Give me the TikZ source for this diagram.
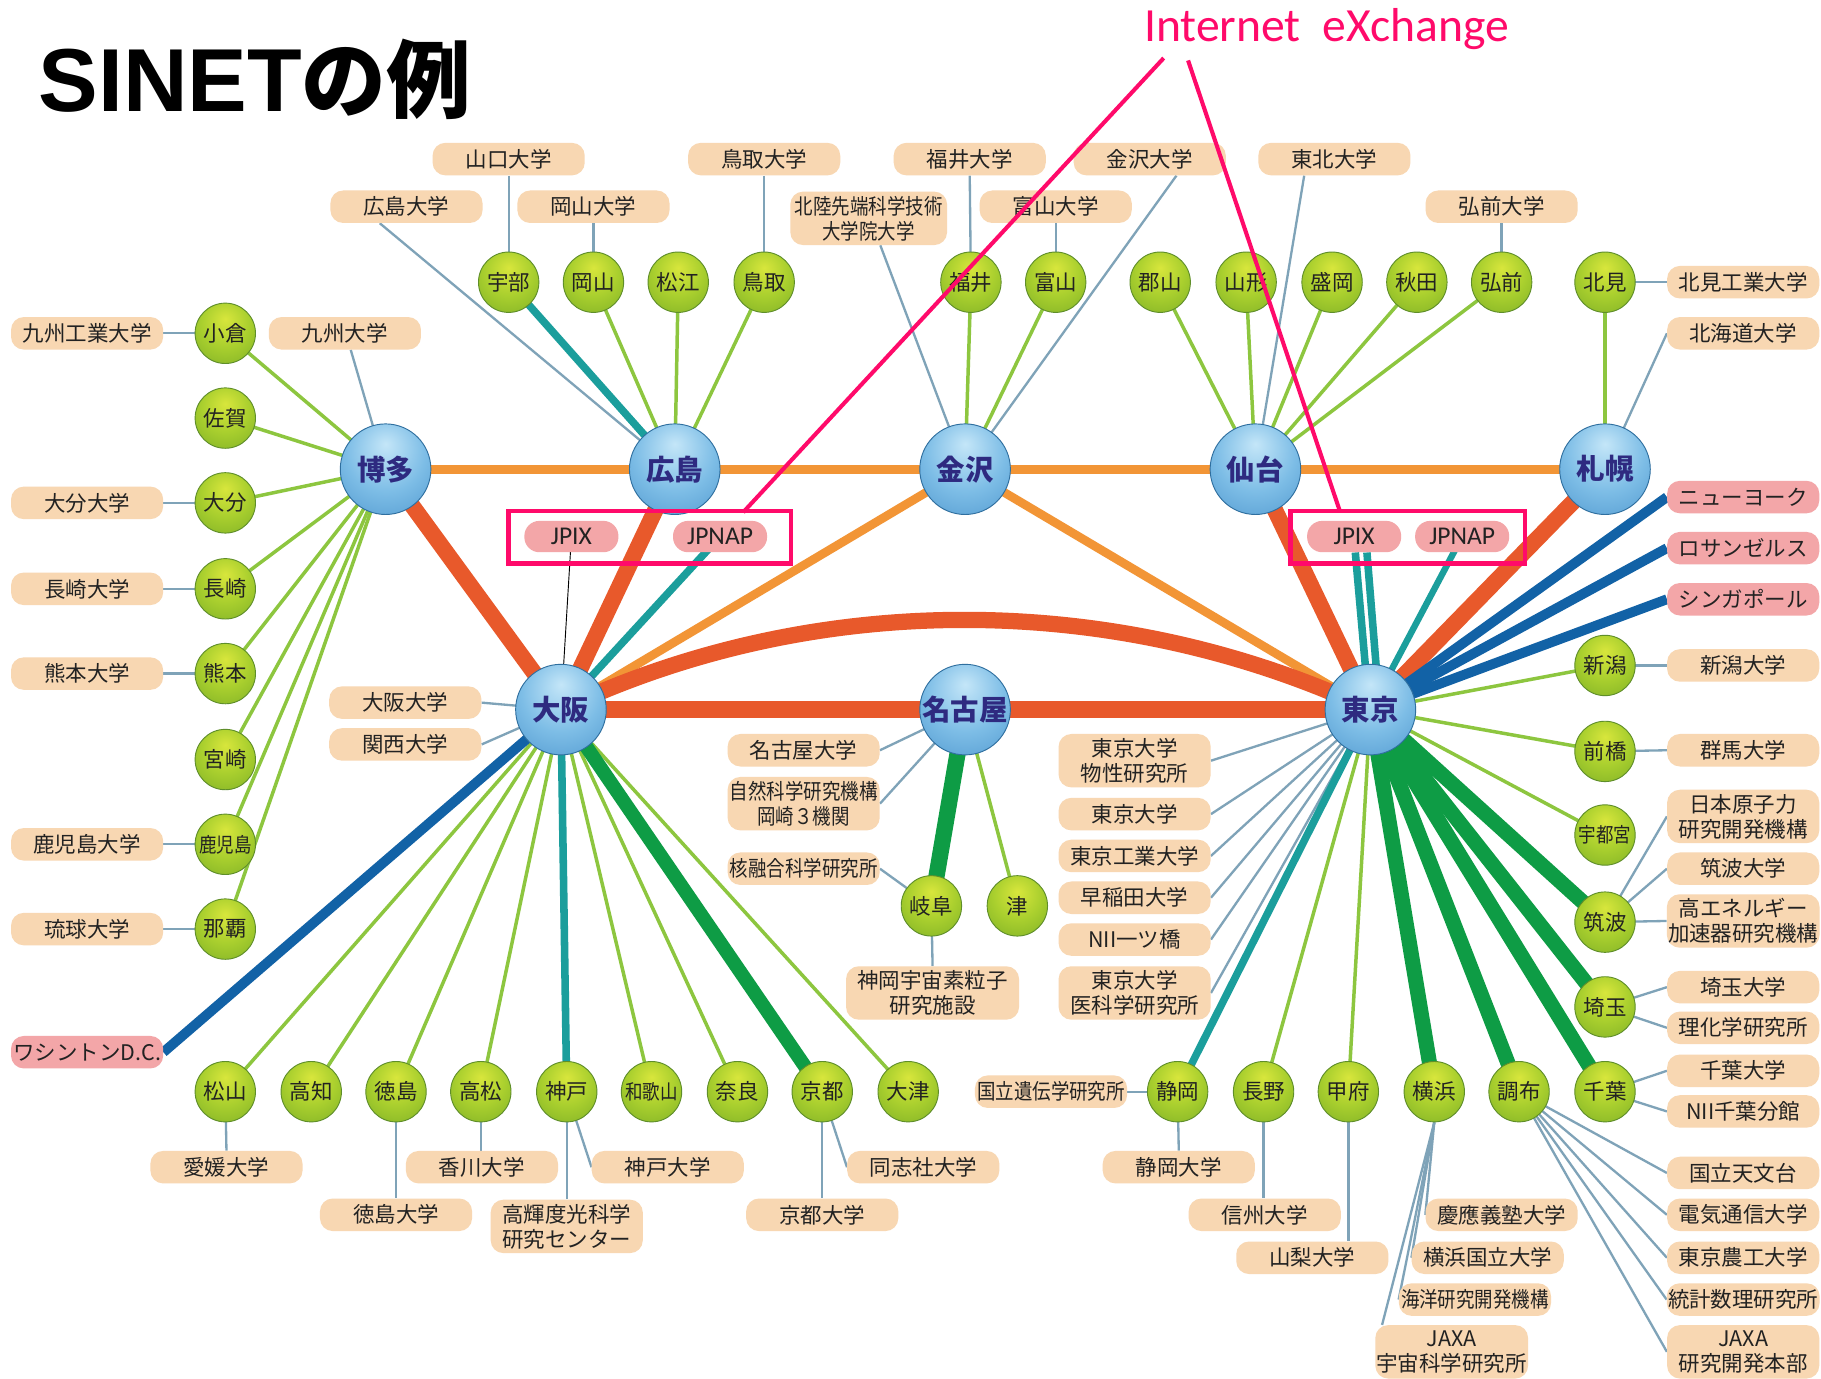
\documentclass[tikz,border=0pt]{standalone}
\usepackage{fontspec}
\newfontfamily\cjk{Noto Sans CJK JP}
\newfontfamily\cjkn[FakeStretch=0.86]{Noto Sans CJK JP}
\newfontfamily\arialf{Liberation Sans}
\newfontfamily\calib{Carlito}
\usetikzlibrary{backgrounds}

\definecolor{gcen}{HTML}{D8E63C}
\definecolor{gmid}{HTML}{A9CF2E}
\definecolor{gedge}{HTML}{6FA523}
\definecolor{gline}{HTML}{5F8E2A}
\definecolor{bcen}{HTML}{C4E6F8}
\definecolor{bmid}{HTML}{7DBDE6}
\definecolor{bedge}{HTML}{3A86C4}
\definecolor{bline}{HTML}{2F6F9F}
\definecolor{hubtxt}{HTML}{2E2A80}
\definecolor{txt}{HTML}{222222}
\definecolor{peach}{HTML}{F8D7B2}
\definecolor{pinkc}{HTML}{F3A6A8}
\definecolor{mag}{HTML}{FF0A6A}
\definecolor{orng}{HTML}{F29536}
\definecolor{redo}{HTML}{E8592B}
\definecolor{tealc}{HTML}{1B9E9C}
\definecolor{intlc}{HTML}{1262A6}
\definecolor{gth}{HTML}{0E9C45}
\definecolor{lgc}{HTML}{8DC63F}
\definecolor{gry}{HTML}{7FA3B8}

\pgfdeclareradialshading{greenball}{\pgfpoint{0bp}{12bp}}{color(0bp)=(gcen); color(20bp)=(gmid); color(48bp)=(gedge); color(70bp)=(gedge)}
\pgfdeclareradialshading{blueball}{\pgfpoint{0bp}{14bp}}{color(0bp)=(bcen); color(22bp)=(bmid); color(52bp)=(bedge); color(70bp)=(bedge)}

\tikzset{
  hub/.style={circle,minimum size=78pt,inner sep=0pt,draw=bline,line width=0.8pt,shading=blueball,text=hubtxt,font=\cjk\bfseries\fontsize{24.5}{24.5}\selectfont},
  gn/.style={circle,minimum size=52pt,inner sep=0pt,draw=gline,line width=0.8pt,shading=greenball,text=txt,font=\cjk\fontsize{18.5}{18.5}\selectfont},
  gnthree/.style={gn,font=\cjkn\fontsize{17.5}{17.5}\selectfont},
  lab/.style={rounded corners=11pt,fill=peach,minimum width=131pt,minimum height=28pt,inner sep=1pt,text=txt,align=center,font=\cjk\fontsize{18.5}{21.5}\selectfont},
  tall/.style={minimum height=46pt},
  narrow/.style={font=\cjkn\fontsize{18.5}{21.5}\selectfont},
  pinkf/.style={fill=pinkc},
  pill/.style={rounded corners=13pt,fill=pinkc,minimum width=81pt,minimum height=27pt,inner sep=0pt,text=txt,font=\calib\fontsize{22}{22}\selectfont},
  ixframe/.style={draw=mag,line width=4pt,minimum height=45pt,inner sep=0pt},
  lor/.style={draw=orng,line width=7.5pt},
  lred/.style={draw=redo,line width=14pt},
  lteal/.style={draw=tealc,line width=6.5pt},
  lint/.style={draw=intlc,line width=8.5pt},
  lgth/.style={draw=gth,line width=13pt},
  llg/.style={draw=lgc,line width=3pt},
  lgr/.style={draw=gry,line width=2pt},
  lmag/.style={draw=mag,line width=3.5pt},
}

\begin{document}
\begin{tikzpicture}[x=1pt,y=-1pt]
\useasboundingbox (0,0) rectangle (1568,1187);

% title
\node[anchor=base west,inner sep=0pt] (title) at (33,96) {\arialf\bfseries\fontsize{77}{77}\selectfont SINET\cjk\bfseries\fontsize{73}{73}\selectfont の例};
\node[anchor=base west,inner sep=0pt,text=mag] (ix) at (985,36) {\calib\fontsize{41}{41}\selectfont Internet\ \ eXchange};

% hubs
\node[hub] (hakata) at (332,404) {博多};
\node[hub] (hiro) at (581,404) {広島};
\node[hub] (kana) at (831,404) {金沢};
\node[hub] (sendai) at (1081,404) {仙台};
\node[hub] (sapporo) at (1382,404) {札幌};
\node[hub] (osaka) at (483,611) {大阪};
\node[hub] (nagoya) at (831,611) {名古屋};
\node[hub] (tokyo) at (1180,611) {東京};

% left green nodes
\node[gn] (kokura) at (194,287) {小倉};
\node[gn] (saga) at (194,360) {佐賀};
\node[gn] (oita) at (194,433) {大分};
\node[gn] (nagasaki) at (194,507) {長崎};
\node[gn] (kumamoto) at (194,580) {熊本};
\node[gn] (miyazaki) at (194,654) {宮崎};
\node[gnthree] (kagoshima) at (194,727) {鹿児島};
\node[gn] (naha) at (194,800) {那覇};

% top green nodes
\node[gn] (ube) at (438,243) {宇部};
\node[gn] (okayama) at (511,243) {岡山};
\node[gn] (matsue) at (584,243) {松江};
\node[gn] (tottori) at (658,243) {鳥取};
\node[gn] (fukui) at (836,243) {福井};
\node[gn] (toyama) at (909,243) {富山};
\node[gn] (koriyama) at (999,243) {郡山};
\node[gn] (yamagata) at (1073,243) {山形};
\node[gn] (morioka) at (1147,243) {盛岡};
\node[gn] (akita) at (1220,243) {秋田};
\node[gn] (hirosaki) at (1293,243) {弘前};
\node[gn] (kitami) at (1382,243) {北見};

% right green nodes
\node[gn] (niigata) at (1382,573) {新潟};
\node[gn] (maebashi) at (1382,647) {前橋};
\node[gnthree] (utsunomiya) at (1382,719) {宇都宮};
\node[gn] (tsukuba) at (1382,794) {筑波};
\node[gn] (saitama) at (1382,867) {埼玉};
\node[gn] (chiba) at (1382,940) {千葉};

% bottom green nodes
\node[gn] (matsuyama) at (194,940) {松山};
\node[gn] (kochi) at (268,940) {高知};
\node[gn] (tokushima) at (341,940) {徳島};
\node[gn] (takamatsu) at (414,940) {高松};
\node[gn] (kobe) at (488,940) {神戸};
\node[gnthree] (wakayama) at (561,940) {和歌山};
\node[gn] (nara) at (635,940) {奈良};
\node[gn] (kyoto) at (708,940) {京都};
\node[gn] (otsu) at (782,940) {大津};
\node[gn] (shizuoka) at (1014,940) {静岡};
\node[gn] (nagano) at (1088,940) {長野};
\node[gn] (kofu) at (1161,940) {甲府};
\node[gn] (yokohama) at (1235,940) {横浜};
\node[gn] (chofu) at (1308,940) {調布};
\node[gn] (gifu) at (802,780) {岐阜};
\node[gn] (tsu) at (876,780) {津};

% left labels
\node[lab] (kyutech) at (75,287) {九州工業大学};
\node[lab] (oitau) at (75,433) {大分大学};
\node[lab] (nagasakiu) at (75,507) {長崎大学};
\node[lab] (kumamotou) at (75,580) {熊本大学};
\node[lab] (kagoshimau) at (75,727) {鹿児島大学};
\node[lab] (ryukyu) at (75,800) {琉球大学};
\node[lab,pinkf] (wdc) at (75,906) {ワシントンD.C.};
\node[lab] (kyushu) at (297,287) {九州大学};

% top labels
\node[lab] (yamaguchiu) at (438,137) {山口大学};
\node[lab] (hiroshimau) at (350,178) {広島大学};
\node[lab] (okayamau) at (511,178) {岡山大学};
\node[lab] (tottoriu) at (658,137) {鳥取大学};
\node[lab,tall,narrow,minimum width=135pt] (jaist) at (748,188) {北陸先端科学技術\\大学院大学};
\node[lab] (fukuiu) at (835,137) {福井大学};
\node[lab] (kanazawau) at (990,137) {金沢大学};
\node[lab] (toyamau) at (909,178) {富山大学};
\node[lab] (tohoku) at (1149,137) {東北大学};
\node[lab] (hirosakiu) at (1293,178) {弘前大学};
\node[lab] (kitamiu) at (1501,243) {北見工業大学};
\node[lab] (hokudai) at (1501,287) {北海道大学};

% right labels
\node[lab,pinkf] (ny) at (1501,428) {ニューヨーク};
\node[lab,pinkf] (la) at (1501,472) {ロサンゼルス};
\node[lab,pinkf] (sg) at (1501,516) {シンガポール};
\node[lab] (niigatau) at (1501,573) {新潟大学};
\node[lab] (gunmau) at (1501,646) {群馬大学};
\node[lab,tall] (jaea) at (1501,703) {日本原子力\\研究開発機構};
\node[lab] (tsukubau) at (1501,748) {筑波大学};
\node[lab,tall] (kek) at (1501,793) {高エネルギー\\加速器研究機構};
\node[lab] (saitamau) at (1501,850) {埼玉大学};
\node[lab] (riken) at (1501,885) {理化学研究所};
\node[lab] (chibau) at (1501,922) {千葉大学};
\node[lab] (niichiba) at (1501,957) {NII千葉分館};
\node[lab] (nao) at (1501,1010) {国立天文台};
\node[lab] (uec) at (1501,1046) {電気通信大学};
\node[lab] (tuat) at (1501,1083) {東京農工大学};
\node[lab] (ism) at (1501,1119) {統計数理研究所};
\node[lab,tall] (jaxar) at (1501,1164) {JAXA\\研究開発本部};

% bottom right labels
\node[lab,narrow] (nig) at (905,940) {国立遺伝学研究所};
\node[lab] (shizuokau) at (1015,1005) {静岡大学};
\node[lab] (shinshu) at (1089,1046) {信州大学};
\node[lab] (yamanashi) at (1130,1083) {山梨大学};
\node[lab] (keio) at (1293,1046) {慶應義塾大学};
\node[lab] (ynu) at (1281,1083) {横浜国立大学};
\node[lab,narrow] (jamstec) at (1270,1119) {海洋研究開発機構};
\node[lab,tall] (jaxas) at (1250,1164) {JAXA\\宇宙科学研究所};

% tokyo column
\node[lab,tall] (issp) at (977,655) {東京大学\\物性研究所};
\node[lab] (utokyo) at (977,701) {東京大学};
\node[lab] (titech) at (977,737) {東京工業大学};
\node[lab] (waseda) at (977,773) {早稲田大学};
\node[lab] (niihit) at (977,809) {NII一ツ橋};
\node[lab,tall] (ims) at (977,855) {東京大学\\医科学研究所};

% nagoya labels
\node[lab] (nagoyau) at (692,646) {名古屋大学};
\node[lab,tall,narrow] (nins) at (692,692) {自然科学研究機構\\岡崎３機関};
\node[lab,narrow] (nifs) at (692,748) {核融合科学研究所};
\node[lab,tall,minimum width=149pt] (kamioka) at (803,855) {神岡宇宙素粒子\\研究施設};

% osaka labels
\node[lab] (osakau) at (349,605) {大阪大学};
\node[lab] (kansai) at (349,641) {関西大学};

% bottom left labels
\node[lab] (ehime) at (195,1005) {愛媛大学};
\node[lab] (tokushimau) at (341,1046) {徳島大学};
\node[lab] (kagawa) at (415,1005) {香川大学};
\node[lab] (kobeu) at (575,1005) {神戸大学};
\node[lab,tall] (spring) at (488,1056) {高輝度光科学\\研究センター};
\node[lab] (kyotou) at (708,1046) {京都大学};
\node[lab] (doshisha) at (795,1005) {同志社大学};

% IX pills
\node[pill] (jpixL) at (492,462) {JPIX};
\node[pill] (jpnapL) at (620,462) {JPNAP};
\node[pill] (jpixR) at (1166,462) {JPIX};
\node[pill] (jpnapR) at (1259,462) {JPNAP};

\begin{pgfonlayer}{background}
\fill[white] (0,0) rectangle (1568,1187);
% backbone orange
\draw[lor] (hakata.center) -- (sapporo.center);
\draw[lor] (kana.center) -- (osaka.center);
\draw[lor] (kana.center) -- (tokyo.center);
% regional light green
\foreach \n in {kokura,saga,oita,nagasaki,kumamoto,miyazaki,kagoshima,naha}
  \draw[llg] (hakata.center) -- (\n.center);
\foreach \n in {okayama,matsue,tottori}
  \draw[llg] (hiro.center) -- (\n.center);
\foreach \n in {fukui,toyama}
  \draw[llg] (kana.center) -- (\n.center);
\foreach \n in {koriyama,yamagata,morioka,akita,hirosaki}
  \draw[llg] (sendai.center) -- (\n.center);
\draw[llg] (sapporo.center) -- (kitami.center);
\foreach \n in {matsuyama,kochi,tokushima,takamatsu,wakayama,nara,otsu}
  \draw[llg] (osaka.center) -- (\n.center);
\draw[llg] (nagoya.center) -- (tsu.center);
\foreach \n in {niigata,maebashi,utsunomiya,nagano,kofu}
  \draw[llg] (tokyo.center) -- (\n.center);
% grey university links
\draw[lgr] (kyutech.east) -- (kokura.center);
\draw[lgr] (oitau.east) -- (oita.center);
\draw[lgr] (nagasakiu.east) -- (nagasaki.center);
\draw[lgr] (kumamotou.east) -- (kumamoto.center);
\draw[lgr] (kagoshimau.east) -- (kagoshima.center);
\draw[lgr] (ryukyu.east) -- (naha.center);
\draw[lgr] ([xshift=5pt]kyushu.south) -- (hakata.center);
\draw[lgr] (yamaguchiu.south) -- (ube.center);
\draw[lgr] ([xshift=-23pt]hiroshimau.south) -- (hiro.center);
\draw[lgr] (okayamau.south) -- (okayama.center);
\draw[lgr] (tottoriu.south) -- (tottori.center);
\draw[lgr] ([xshift=10pt]jaist.south) -- (kana.center);
\draw[lgr] (fukuiu.south) -- (fukui.center);
\draw[lgr] (toyamau.south) -- (toyama.center);
\draw[lgr] ([xshift=23pt]kanazawau.south) -- (kana.center);
\draw[lgr] ([xshift=-26pt]tohoku.south) -- (sendai.center);
\draw[lgr] (hirosakiu.south) -- (hirosaki.center);
\draw[lgr] (kitamiu.west) -- (kitami.center);
\draw[lgr] (hokudai.west) -- (sapporo.center);
\draw[lgr] (osakau.east) -- (osaka.center);
\draw[lgr] (kansai.east) -- (osaka.center);
\draw[lgr] (nagoyau.east) -- (nagoya.center);
\draw[lgr] (nins.east) -- (nagoya.center);
\draw[lgr] (nifs.east) -- (gifu.center);
\draw[lgr] (gifu.center) -- (kamioka.north);
\foreach \n in {issp,utokyo,titech,waseda,niihit,ims}
  \draw[lgr] (\n.east) -- (tokyo.center);
\draw[lgr] (niigatau.west) -- (niigata.center);
\draw[lgr] (gunmau.west) -- (maebashi.center);
\draw[lgr] (jaea.west) -- (tsukuba.center);
\draw[lgr] (tsukubau.west) -- (tsukuba.center);
\draw[lgr] (kek.west) -- (tsukuba.center);
\draw[lgr] (saitamau.west) -- (saitama.center);
\draw[lgr] (riken.west) -- (saitama.center);
\draw[lgr] (chibau.west) -- (chiba.center);
\draw[lgr] (niichiba.west) -- (chiba.center);
\foreach \n in {nao,uec,tuat,ism,jaxar}
  \draw[lgr] (chofu.center) -- (\n.west);
\draw[lgr] (yokohama.south) -- (keio.west);
\draw[lgr] (yokohama.south) -- (ynu.west);
\draw[lgr] (yokohama.south) -- (jamstec.west);
\draw[lgr] (yokohama.south) -- ([xshift=6pt]jaxas.north west);
\draw[lgr] (nig.east) -- (shizuoka.center);
\draw[lgr] (shizuoka.center) -- (shizuokau.north);
\draw[lgr] (nagano.center) -- (nagano.center |- shinshu.north);
\draw[lgr] (kofu.center) -- (kofu.center |- yamanashi.north);
\draw[lgr] (matsuyama.center) -- (ehime.north);
\draw[lgr] (tokushima.center) -- (tokushima.center |- tokushimau.north);
\draw[lgr] (takamatsu.center) -- (takamatsu.center |- kagawa.north);
\draw[lgr] (kobe.center) -- (kobe.center |- spring.north);
\draw[lgr] (kobe.center) -- (kobeu.west);
\draw[lgr] (kyoto.center) -- (kyotou.north);
\draw[lgr] (kyoto.center) -- (doshisha.west);
% thick green
\draw[lgth,line width=12pt] (osaka.center) -- (kyoto.center);
\draw[lgth,line width=14pt] (nagoya.center) -- (gifu.center);
\foreach \n in {yokohama,chofu,chiba,saitama,tsukuba}
  \draw[lgth] (tokyo.center) -- (\n.center);
% teal
\draw[lteal] (ube.center) -- (hiro.center);
\draw[lteal] (jpnapL.center) -- (osaka.center);
\draw[lteal] (osaka.center) -- (kobe.center);
\draw[lteal] ([xshift=1pt]jpixR.south) -- ([xshift=-1pt]tokyo.center);
\draw[lteal] ([xshift=11pt]jpixR.south) -- ([xshift=8pt]tokyo.center);
\draw[lteal,line width=5.5pt] (jpnapR.center) -- (tokyo.center);
\draw[lteal] (tokyo.center) -- (shizuoka.center);
\draw[black,line width=0.8pt] (jpixL.center) -- (osaka.center);
% red core
\draw[lred] (hakata.center) -- (osaka.center);
\draw[lred] (hiro.center) -- (osaka.center);
\draw[lred] (osaka.center) .. controls (700,508) and (960,508) .. (tokyo.center);
\draw[lred,line width=15pt] (osaka.center) -- (tokyo.center);
\draw[lred] (sendai.center) -- (tokyo.center);
\draw[lred] (sapporo.center) -- (tokyo.center);
% international
\draw[lint] (osaka.center) -- (wdc.east);
\draw[lint] (tokyo.center) -- (ny.west);
\draw[lint] (tokyo.center) -- (la.west);
\draw[lint] (tokyo.center) -- (sg.west);
\end{pgfonlayer}

% IX frames
\node[ixframe,minimum width=243pt] (fL) at (559.5,462.5) {};
\node[ixframe,minimum width=202pt] (fR) at (1212,462.5) {};
\coordinate (ixa) at (1002,50);
\coordinate (ixb) at (1023,52);
\coordinate (fLtop) at (640,441);
\coordinate (fRtop) at (1154,441);
\draw[lmag] (ixa) -- (fLtop);
\draw[lmag] (ixb) -- (fRtop);
\end{tikzpicture}
\end{document}
